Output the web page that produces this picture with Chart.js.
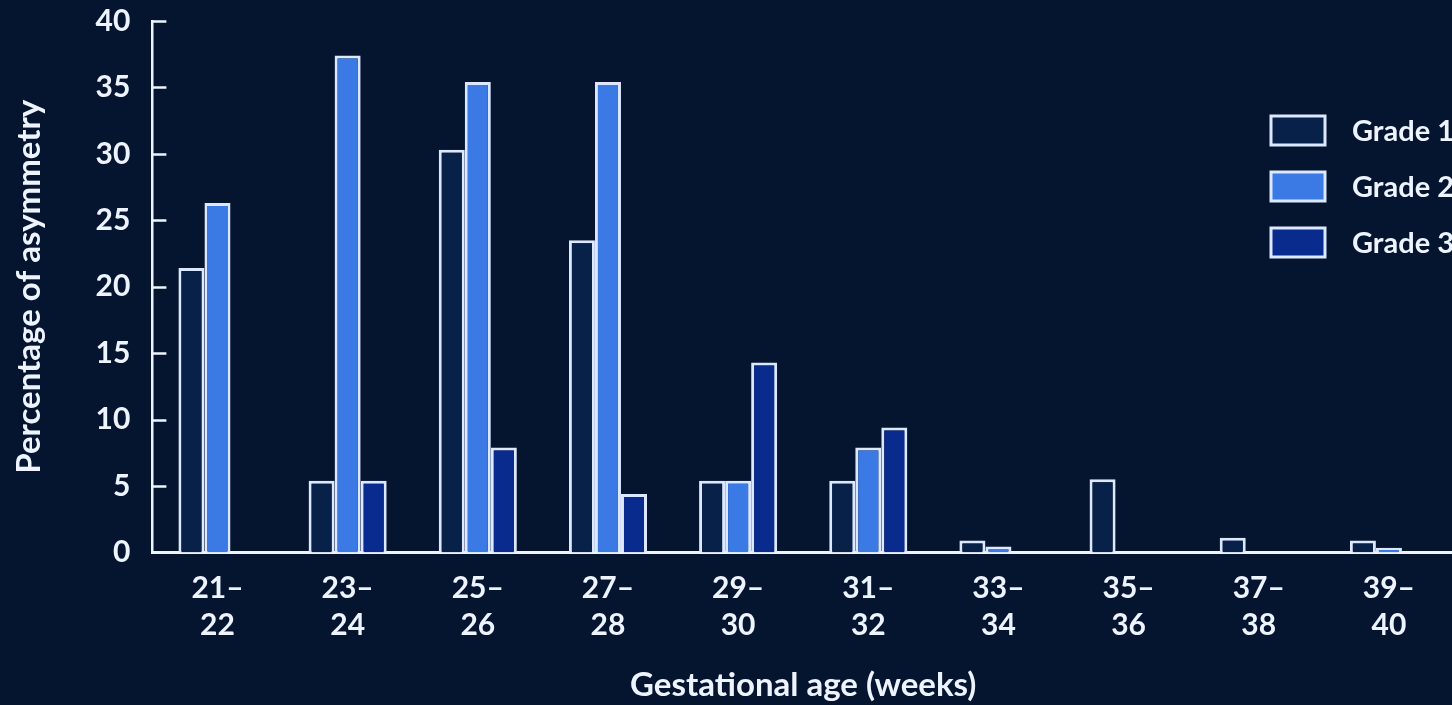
<!DOCTYPE html>
<html>
<head>
<meta charset="utf-8">
<script src="https://cdn.jsdelivr.net/npm/chart.js@4.4.0/dist/chart.umd.min.js"></script>
<style>
  html, body { margin: 0; padding: 0; background: #06152f; overflow: hidden; }
  #wrap { position: absolute; left: 0; top: -19px; width: 1500px; height: 724px; }
</style>
</head>
<body>
<div id="wrap"><canvas id="chart"></canvas></div>
<script>
// gestational age groups (weeks)
var ageGroups = [['21–','22'], ['23–','24'], ['25–','26'], ['27–','28'], ['29–','30'],
                 ['31–','32'], ['33–','34'], ['35–','36'], ['37–','38'], ['39–','40']];
var grade1 = [21.4, 5.4, 30.3, 23.5, 5.4, 5.4, 0.9, 5.5, 1.1, 0.9];
var grade2 = [26.3, 37.4, 35.4, 35.4, 5.4, 7.9, 0.45, 0, 0, 0.35];
var grade3 = [0, 5.4, 7.9, 4.4, 14.3, 9.4, 0, 0, 0, 0];
var seriesNames = ['Grade 1', 'Grade 2', 'Grade 3'];

var ink = '#eef4ff';
var edge = '#dbe8ff';
var fontFamily = 'Lato, "Open Sans", sans-serif';

// short tick marks pointing into the plot, like the original figure
var innerTicks = {
    id: 'innerTicks',
    afterDraw: function (chart) {
        var ctx = chart.ctx, y = chart.scales.y, left = chart.chartArea.left;
        ctx.save();
        ctx.strokeStyle = ink;
        ctx.lineWidth = 2.5;
        y.ticks.forEach(function (t) {
            var py = Math.round(y.getPixelForValue(t.value)) + 0.5;
            ctx.beginPath();
            ctx.moveTo(left, py);
            ctx.lineTo(left + 14, py);
            ctx.stroke();
        });
        ctx.restore();
    }
};

// vertical legend box inside the plot, right side
var sideLegend = {
    id: 'sideLegend',
    afterDraw: function (chart) {
        var ctx = chart.ctx;
        ctx.save();
        ctx.font = 'bold 29px ' + fontFamily;
        ctx.textBaseline = 'middle';
        chart.data.datasets.forEach(function (ds, i) {
            var x = 1271, y = 135 + i * 56;
            ctx.fillStyle = ds.backgroundColor;
            ctx.fillRect(x, y, 54, 29);
            ctx.strokeStyle = ds.borderColor;
            ctx.lineWidth = 3;
            ctx.strokeRect(x, y, 54, 29);
            ctx.fillStyle = ink;
            ctx.fillText(ds.label, 1352, y + 16);
        });
        ctx.restore();
    }
};

new Chart(document.getElementById('chart'), {
    type: 'bar',
    data: {
        labels: ageGroups,
        datasets: [
            { label: seriesNames[0], data: grade1, backgroundColor: '#082148', borderColor: edge, borderWidth: 3 },
            { label: seriesNames[1], data: grade2, backgroundColor: '#3b79e4', borderColor: edge, borderWidth: 3 },
            { label: seriesNames[2], data: grade3, backgroundColor: '#0a2b8e', borderColor: edge, borderWidth: 3 }
        ]
    },
    options: {
        responsive: true,
        maintainAspectRatio: false,
        animation: false,
        layout: { padding: { top: 0, right: 46, bottom: 0, left: 6 } },
        plugins: {
            legend: { display: false },
            tooltip: { enabled: false }
        },
        datasets: {
            bar: { categoryPercentage: 0.6, barPercentage: 1.0 }
        },
        scales: {
            x: {
                grid: { display: false, drawTicks: false },
                border: { display: true, color: ink, width: 3 },
                ticks: { color: ink, padding: 17, font: { family: fontFamily, size: 30, weight: 'bold', lineHeight: 1.25 } },
                title: { display: true, text: 'Gestational age (weeks)', color: ink,
                         padding: { top: 4, bottom: 0 }, font: { family: fontFamily, size: 33, weight: 'bold' } }
            },
            y: {
                min: 0, max: 40,
                grid: { display: false, drawTicks: false },
                border: { display: true, color: ink, width: 2.5 },
                ticks: { stepSize: 5, color: ink, padding: 22, font: { family: fontFamily, size: 30, weight: 'bold' } },
                title: { display: true, text: 'Percentage of asymmetry', color: ink,
                         padding: { bottom: 24 }, font: { family: fontFamily, size: 33, weight: 'bold' } }
            }
        }
    },
    plugins: [innerTicks, sideLegend]
});
</script>
</body>
</html>
